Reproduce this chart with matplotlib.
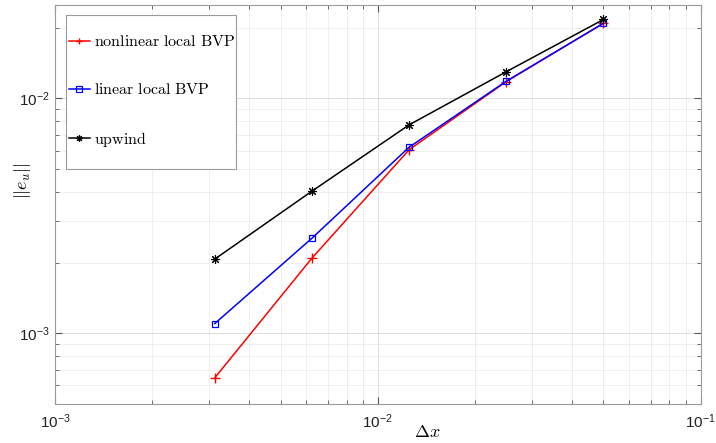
import matplotlib
matplotlib.use('Agg')
import matplotlib.pyplot as plt
from matplotlib.patches import Rectangle

plt.rcParams['font.family'] = ['Liberation Sans', 'DejaVu Sans']

# grid spacing and error norms
dx = [0.05, 0.025, 0.0125, 0.00625, 0.003125]
err_nonlinear = [0.0209, 0.0118, 0.00605, 0.00209, 0.000646]
err_linear = [0.0209, 0.01185, 0.00620, 0.00254, 0.00110]
err_upwind = [0.0217, 0.0130, 0.00772, 0.00403, 0.00207]

labels = ['nonlinear local BVP', 'linear local BVP', 'upwind']


def tex(s):
    return r'$\mathrm{%s}$' % s.replace(' ', r'\ ')


fig = plt.figure(figsize=(7.16, 4.43), dpi=100)
ax = fig.add_axes([0.0768, 0.088, 0.9018, 0.9007])

ax.loglog(dx, err_nonlinear, color='red', marker='+', markersize=6.5, lw=1.1, label=tex(labels[0]))
ax.loglog(dx, err_linear, color='blue', marker='s', markersize=5, mfc='none', mew=0.9,
          lw=1.1, label=tex(labels[1]))
ax.loglog(dx, err_upwind, color='black', marker=(8, 2, 0), markersize=6.5, mew=0.8,
          lw=1.1, label=tex(labels[2]))

ax.set_xlim(1e-3, 1e-1)
ax.set_ylim(5e-4, 2.5e-2)

ax.grid(True, which='major', color='#dcdcdc', lw=0.7)
ax.grid(True, which='minor', color='#ececec', lw=0.6)
ax.set_axisbelow(True)
ax.tick_params(which='both', direction='in', top=True, right=True, colors='#555555',
               labelcolor='#222222', labelsize=11)
ax.tick_params(which='major', length=5)
ax.tick_params(which='minor', length=3)
ax.tick_params(axis='x', pad=6)
for s in ax.spines.values():
    s.set_color('#9a9a9a')
    s.set_linewidth(0.8)

xl = ax.set_xlabel(r'$\Delta x$', fontsize=13)
xl.set_math_fontfamily('cm')
xl.set_va('center')
ax.xaxis.set_label_coords(0.576, -0.072)
yl = ax.set_ylabel(r'$||e_u||$', fontsize=13)
yl.set_math_fontfamily('cm')
yl.set_va('center')
ax.yaxis.set_label_coords(-0.05, 0.559)

# legend box drawn by hand: MATLAB pads it much more vertically than sideways
box = Rectangle((0.0166, 0.589), 0.263, 0.385, transform=ax.transAxes,
                facecolor='white', edgecolor='#9a9a9a', lw=0.8, zorder=4.5)
ax.add_patch(box)
leg = ax.legend(loc='center left', bbox_to_anchor=(0.0215, 0.783), fontsize=11.5,
                handlelength=1.3, handletextpad=0.25, labelspacing=2.05, borderpad=0,
                borderaxespad=0, frameon=False, markerscale=0.75)
for t in leg.get_texts():
    t.set_math_fontfamily('cm')

fig.savefig('out.png', dpi=100)
